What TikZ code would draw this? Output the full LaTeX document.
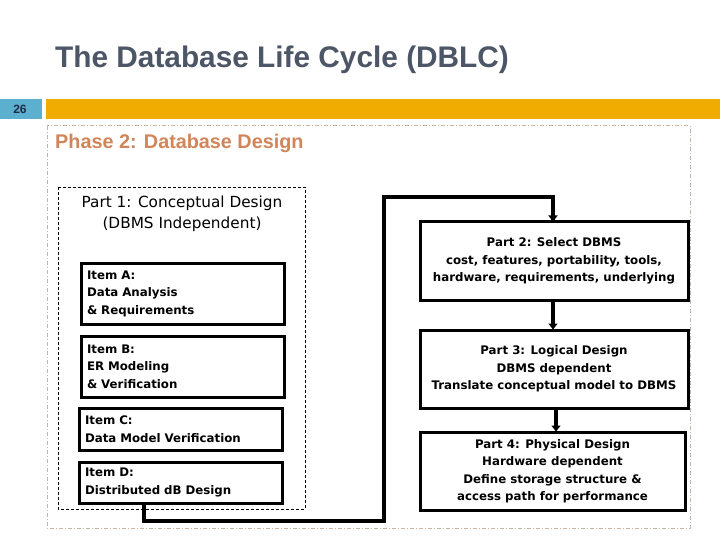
\documentclass[tikz,border=0pt]{standalone}
\usepackage{fontspec}
\setmainfont{DejaVu Sans}
\newfontfamily\arialf{Liberation Sans}
\usetikzlibrary{arrows.meta}
\definecolor{titlegray}{HTML}{4D5666}
\definecolor{numblue}{HTML}{5BB0CF}
\definecolor{barorange}{HTML}{F0AC00}
\definecolor{phasebrown}{HTML}{D0855A}
\definecolor{tanline}{HTML}{C8B4A0}
\definecolor{navy}{HTML}{1F2A44}
\tikzset{
  itembox/.style={draw=black, line width=3pt, rectangle, inner xsep=6pt, inner ysep=0pt,
    align=left, font=\fontsize{11.8}{17.5}\selectfont\bfseries},
  partbox/.style={draw=black, line width=3pt, rectangle, inner sep=0pt,
    align=center, minimum width=268pt, minimum height=78pt,
    font=\fontsize{11.8}{17.5}\selectfont\bfseries},
  conn/.style={line width=4pt, line cap=rect},
  arr/.style={-{Triangle[length=6pt,width=9pt]}, line width=4pt},
}
\begin{document}
\begin{tikzpicture}[x=1pt,y=-1pt]
\useasboundingbox (0,0) rectangle (720,540);
\fill[white] (0,0) rectangle (720,540);
% title
\node[anchor=base west, inner sep=0pt, text=titlegray, font=\arialf\fontsize{29.8}{34}\selectfont\bfseries] (title) at (55,68) {The Database Life Cycle (DBLC)};
% header bar
\fill[numblue] (0,99) rectangle (42,119);
\node[font=\arialf\fontsize{12}{14}\selectfont\bfseries, text=navy, inner sep=0pt] (num) at (20,109) {26};
\fill[barorange] (46,99) rectangle (720,119);
% outer dash-dot frame
\draw[tanline, line width=1pt, dash pattern=on 4pt off 2pt on 1pt off 2pt] (47,126) rectangle (690,528);
\node[anchor=base west, inner sep=0pt, text=phasebrown, font=\arialf\fontsize{19.8}{22}\selectfont\bfseries] (phase) at (55,149) {Phase 2: Database Design};
% part 1 dashed group
\draw[black, line width=0.8pt, dash pattern=on 3pt off 2pt] (58,187) rectangle (305,509);
\node[align=center, inner sep=0pt, font=\fontsize{15.3}{21}\selectfont] (part1) at (182,214) {Part 1: Conceptual Design\\(DBMS Independent)};
% items
\node[itembox, minimum width=203pt, minimum height=61pt, text width=191pt] (itemA) at (182.5,293.5) {Item A:\\Data Analysis\\\& Requirements};
\node[itembox, minimum width=203pt, minimum height=61pt, text width=191pt] (itemB) at (182.5,366.5) {Item B:\\ER Modeling\\\& Verification};
\node[itembox, minimum width=203pt, minimum height=42pt, text width=191pt] (itemC) at (180.5,429) {Item C:\\Data Model Verification};
\node[itembox, minimum width=203pt, minimum height=41pt, text width=191pt] (itemD) at (180.5,482.5) {Item D:\\Distributed dB Design};
% right parts
\node[partbox] (part2) at (554,261) {Part 2: Select DBMS\\cost, features, portability, tools,\\hardware, requirements, underlying};
\node[partbox] (part3) at (554,369) {Part 3: Logical Design\\DBMS dependent\\Translate conceptual model to DBMS};
\node[partbox, minimum width=265pt] (part4) at (552.5,471) {Part 4: Physical Design\\Hardware dependent\\Define storage structure \&\\access path for performance};
% connectors
\coordinate (c1) at (384,521);
\coordinate (c2) at (384,197);
\draw[conn] ([xshift=-36.5pt]itemD.south) |- (c1) -- (c2) -| ([xshift=-1pt]part2.north);
\draw[arr] ([xshift=-1pt]part2.north |- c2) -- ([xshift=-1pt,yshift=-1pt]part2.north);
\draw[arr] ([xshift=-1pt]part2.south) -- ([xshift=-1pt,yshift=-1pt]part3.north);
\draw[arr] ([xshift=2pt]part3.south) -- ([xshift=2pt,yshift=-1pt]part3.south |- part4.north);
\end{tikzpicture}
\end{document}
